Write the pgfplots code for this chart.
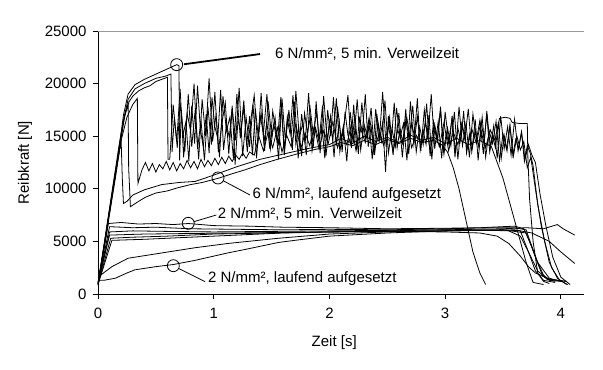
\documentclass[border=0pt]{standalone}
\usepackage{fontspec}
\setmainfont{Liberation Sans}
\usepackage{pgfplots}
\pgfplotsset{compat=1.18}
\begin{document}
\begin{tikzpicture}
\begin{axis}[
 scale only axis, width=486bp, height=263bp,
 xmin=0, xmax=4.2, ymin=0, ymax=25000,
 axis lines*=left,
 axis line style={black, line width=0.8bp},
 xtick={0,1,2,3,4}, ytick={0,5000,10000,15000,20000,25000},
 xticklabels={0,1,2,3,4}, yticklabels={0,5000,10000,15000,20000,25000},
 tick align=outside, major tick length=5bp,
 tick style={black, line width=0.8bp},
 scaled y ticks=false,
 tick label style={font=\fontsize{15bp}{18bp}\selectfont},
 yticklabel style={xshift=-3bp},
 xticklabel style={yshift=-6bp},
 xlabel={Zeit [s]}, ylabel={Reibkraft [N]},
 label style={font=\fontsize{15bp}{18bp}\selectfont},
 xlabel style={at={(axis description cs:0.486,-0.183)}, anchor=center},
 ylabel style={at={(axis description cs:-0.15,0.5)}, anchor=center},
 dat/.style={black, line width=0.8bp, mark=none},
 lead/.style={black, line width=0.8bp, mark=none},
]
\draw[gray!80, line width=0.8bp] (rel axis cs:0,1) -- (rel axis cs:1,1) -- (rel axis cs:1,0);
% 6 N/mm^2, 5 min Verweilzeit
\addplot[dat] coordinates {(0,900)(0.05,4300)(0.1,7800)(0.15,11300)(0.19,14500)(0.22,17000)(0.26,19000)(0.32,19900)(0.4,20400)(0.5,20900)(0.6,21400)(0.68,21800)(0.70,21700)(0.705,12700)
(0.72,17500)(0.75,13500)(0.78,19000)(0.81,14000)(0.84,17500)(0.87,12800)(0.90,18500)(0.93,15000)(0.96,20500)(0.99,14500)
(1.02,17000)(1.05,13000)(1.08,18800)(1.11,15500)(1.14,16800)(1.17,12900)(1.20,19000)(1.23,14800)(1.26,17800)(1.29,13500)
(1.32,16500)(1.35,18900)(1.38,14200)(1.41,17200)(1.44,13600)(1.47,18300)(1.50,15000)(1.53,16800)(1.56,12800)(1.59,18600)
(1.62,14500)(1.65,17500)(1.68,13700)(1.71,19300)(1.74,14900)(1.77,16200)(1.80,13200)(1.83,18000)(1.86,15200)(1.89,17300)
(1.92,13400)(1.95,18800)(1.98,14600)(2.01,16900)(2.04,13000)(2.07,17800)(2.10,14800)(2.13,16400)(2.16,18900)(2.19,13900)
(2.22,17000)(2.25,13300)(2.28,18200)(2.31,14700)(2.34,16600)(2.37,12800)(2.40,17600)(2.43,14400)(2.46,19200)(2.49,14000)
(2.52,16800)(2.55,13200)(2.58,17700)(2.61,14900)(2.64,16200)(2.67,12700)(2.70,18300)(2.73,14200)(2.76,16900)(2.79,13600)
(2.82,17500)(2.85,14700)(2.88,19000)(2.91,13800)(2.94,16400)(2.97,12900)(3.00,17300)(3.03,14500)(3.06,16700)(3.09,13400)
(3.12,17800)(3.15,14100)(3.18,16200)(3.21,13000)(3.24,17100)(3.27,14600)(3.30,16500)(3.33,13300)(3.36,17400)(3.39,14000)
(3.42,16000)(3.45,12900)(3.48,16900)(3.51,13800)(3.54,15900)(3.57,13200)(3.60,16600)(3.63,13600)(3.66,15400)(3.69,12800)
(3.72,14200)(3.75,13200)(3.78,12500)(3.82,9500)(3.87,6500)(3.93,3500)(4.0,1600)(4.08,900)};
\addplot[dat] coordinates {(0,1000)(0.05,4500)(0.1,8200)(0.15,11800)(0.18,14000)(0.2,15300)(0.23,17000)(0.27,18300)(0.3,18800)(0.35,19300)(0.4,19600)(0.45,19800)(0.5,20200)(0.55,20400)(0.6,20600)(0.605,12800)
(0.62,12800)(0.65,18000)(0.68,14500)(0.71,19500)(0.74,13000)(0.77,17200)(0.80,15500)(0.83,20000)(0.86,13800)(0.89,16500)
(0.92,12700)(0.95,17800)(0.98,14200)(1.01,19200)(1.04,13500)(1.07,16200)(1.10,18200)(1.13,13300)(1.16,17600)(1.19,14600)
(1.22,19600)(1.25,13100)(1.28,16800)(1.31,14000)(1.34,18000)(1.37,12900)(1.40,17000)(1.43,15300)(1.46,19000)(1.49,13800)
(1.52,16100)(1.55,14400)(1.58,18700)(1.61,13200)(1.64,16900)(1.67,15200)(1.70,18300)(1.73,12900)(1.76,17100)(1.79,14300)
(1.82,19100)(1.85,13600)(1.88,15800)(1.91,14500)(1.94,17900)(1.97,13100)(2.00,16400)(2.03,14700)(2.06,18600)(2.09,13500)
(2.12,15900)(2.15,12600)(2.18,17300)(2.21,14400)(2.24,18500)(2.27,13700)(2.30,16100)(2.33,14900)(2.36,17700)(2.39,13200)
(2.42,16300)(2.45,14500)(2.48,18400)(2.51,13400)(2.54,15700)(2.57,14000)(2.60,17200)(2.63,13000)(2.66,16600)(2.69,14800)
(2.72,17900)(2.75,13500)(2.78,15900)(2.81,14200)(2.84,18100)(2.87,13100)(2.90,16400)(2.93,14600)(2.96,17500)(2.99,13300)
(3.02,15800)(3.05,14100)(3.08,17300)(3.11,12800)(3.14,16200)(3.17,14700)(3.20,17600)(3.23,13500)(3.26,15600)(3.29,14000)
(3.32,16800)(3.35,13000)(3.38,15500)(3.41,14300)(3.44,16400)(3.47,12700)(3.50,15200)(3.53,13800)(3.56,16000)(3.59,13100)
(3.62,15000)(3.65,13700)(3.68,14500)(3.71,12000)(3.74,13000)(3.78,10000)(3.83,6500)(3.9,3000)(3.97,1500)(4.05,900)};
\addplot[dat] coordinates {(0,950)(0.05,4400)(0.1,8000)(0.15,11600)(0.19,14200)(0.22,16500)(0.26,18500)(0.32,19500)(0.4,20000)(0.5,20500)(0.58,20700)(0.63,20900)(0.64,13500)
(0.66,16800)(0.685,13900)(0.71,18200)(0.735,15100)(0.76,16400)(0.785,12600)(0.81,17900)(0.835,14300)(0.86,19800)(0.885,15600)
(0.91,14000)(0.935,17100)(0.96,13400)(0.985,18700)(1.01,15900)(1.035,14800)(1.06,19400)(1.085,13700)(1.11,16100)(1.135,14900)
(1.16,17900)(1.185,12300)(1.21,16600)(1.235,15400)(1.26,18400)(1.285,14100)(1.31,16900)(1.335,13200)(1.36,17600)(1.385,15000)
(1.41,19100)(1.435,14400)(1.46,16300)(1.485,13800)(1.51,17400)(1.535,15600)(1.56,14300)(1.585,18100)(1.61,13600)(1.635,16700)
(1.66,15200)(1.685,18900)(1.71,14200)(1.735,15800)(1.76,13100)(1.785,17200)(1.81,15300)(1.835,16800)(1.86,13900)(1.885,18300)
(1.91,14700)(1.935,16100)(1.96,12900)(1.985,17500)(2.01,15000)(2.035,18700)(2.06,14100)(2.085,16400)(2.11,13500)(2.135,17300)
(2.16,15100)(2.185,14200)(2.21,18000)(2.235,13800)(2.26,16700)(2.285,15400)(2.31,19000)(2.335,14000)(2.36,15900)(2.385,13200)
(2.41,17100)(2.435,14800)(2.46,16300)(2.485,11600)(2.51,16900)(2.535,14500)(2.56,18200)(2.585,13900)(2.61,15700)(2.635,14400)
(2.66,17600)(2.685,13300)(2.71,16200)(2.735,15000)(2.76,18600)(2.785,13700)(2.81,15500)(2.835,14200)(2.86,17000)(2.885,12800)
(2.91,16100)(2.935,14600)(2.96,17800)(2.985,13600)(3.01,15300)(3.035,14100)(3.06,16900)(3.085,13000)(3.11,15800)(3.135,14500)
(3.16,17400)(3.185,13400)(3.21,15200)(3.235,14000)(3.26,16600)(3.285,12700)(3.31,15600)(3.335,14300)(3.36,17100)(3.385,13500)
(3.41,15000)(3.435,13900)(3.46,16300)(3.485,12900)(3.51,15100)(3.535,13600)(3.56,16000)(3.585,13200)(3.61,14700)(3.635,13800)
(3.66,15400)(3.685,12600)(3.71,14100)(3.735,13400)(3.76,12200)(3.8,8500)(3.86,5000)(3.92,2500)(3.99,1300)(4.06,900)};
% 6 N/mm^2, laufend aufgesetzt
\addplot[dat] coordinates {(0,1000)(0.05,4500)(0.1,8000)(0.15,11500)(0.2,14600)(0.25,16800)(0.3,18000)(0.34,18600)(0.345,10500)
(0.38,11800)(0.41,12500)(0.44,11700)(0.47,12400)(0.50,11600)(0.53,12300)(0.56,11900)(0.59,12600)(0.62,11800)(0.65,12500)
(0.68,11700)(0.71,12400)(0.74,11900)(0.77,12700)(0.80,12000)(0.83,12600)(0.86,11900)(0.89,12800)(0.92,12100)(0.95,12700)
(0.98,12200)(1.01,12900)(1.04,12300)(1.07,13000)(1.10,12400)(1.13,13100)(1.16,12600)(1.19,13200)(1.22,12800)(1.25,13400)
(1.28,12900)(1.31,13500)(1.35,13200)(1.39,15000)(1.43,13600)(1.47,15400)(1.51,13900)(1.55,15800)(1.59,13500)(1.63,15100)
(1.67,14000)(1.71,16200)(1.75,13700)(1.79,15300)(1.83,14100)(1.87,16000)(1.91,13800)(1.95,15500)(1.99,14300)(2.03,16400)
(2.07,13900)(2.11,15200)(2.15,14200)(2.19,16100)(2.23,13600)(2.27,15700)(2.31,14400)(2.35,16500)(2.39,13800)(2.43,15300)
(2.47,14100)(2.51,16000)(2.55,13500)(2.59,15600)(2.63,14300)(2.67,16700)(2.71,13900)(2.75,15100)(2.79,14400)(2.83,16200)
(2.87,13700)(2.91,15500)(2.95,14000)(2.99,16300)(3.03,13600)(3.07,15400)(3.11,14200)(3.15,16000)(3.19,13800)(3.23,15700)
(3.27,14300)(3.31,16400)(3.35,13900)(3.39,15600)(3.43,14600)(3.47,16700)(3.52,16800)(3.56,16700)(3.58,16300)(3.65,16200)
(3.71,16200)(3.715,13000)(3.73,9000)(3.76,5000)(3.8,2000)(3.85,1200)(3.9,1000)};
\addplot[dat] coordinates {(0,900)(0.05,4300)(0.1,7800)(0.15,11300)(0.2,14800)(0.23,16800)(0.26,18100)(0.265,12000)(0.28,8300)(0.35,8800)(0.41,9200)(0.5,9600)(0.6,9800)(0.69,10100)(0.8,10400)(0.9,10600)(1.04,11000)(1.15,11400)(1.27,11800)(1.4,12300)(1.55,12800)(1.75,13400)(1.9,13800)(2.0,14000)(2.1,14400)(2.2,14100)(2.3,14600)(2.4,14200)(2.5,14700)(2.6,14300)(2.7,14800)(2.8,14400)(2.9,14600)(2.97,14200)(3.02,13500)(3.07,12000)(3.12,10000)(3.17,7500)(3.24,4000)(3.3,2000)(3.35,900)};
\addplot[dat] coordinates {(0,800)(0.05,4200)(0.1,7600)(0.15,11000)(0.2,14600)(0.21,11000)(0.22,8600)(0.25,8800)(0.3,9400)(0.4,9900)(0.55,10400)(0.7,10600)(0.84,10700)(1.0,11300)(1.2,12100)(1.4,12800)(1.6,13300)(1.8,13800)(2.0,14200)(2.1,14800)(2.2,14300)(2.3,15000)(2.4,14500)(2.5,14900)(2.6,14400)(2.7,15100)(2.8,14600)(2.9,14900)(3.0,14300)(3.1,14800)(3.2,14200)(3.3,14600)(3.4,14000)(3.5,11000)(3.6,7000)(3.7,3000)(3.76,1100)(3.85,900)};
% 2 N/mm^2, 5 min Verweilzeit
\addplot[dat] coordinates {(0,1000)(0.09,6700)(0.2,6800)(0.35,6650)(0.5,6700)(0.65,6600)(0.78,6700)(1.0,6500)(1.3,6450)(1.6,6350)(2.0,6300)(2.5,6200)(3.0,6250)(3.3,6300)(3.5,6400)(3.6,6450)(3.68,6200)(3.75,4500)(3.8,3000)(3.85,1800)(3.9,1300)(4.0,1200)};
\addplot[dat] coordinates {(0,900)(0.1,6400)(0.3,6300)(0.5,6350)(0.8,6200)(1.2,6150)(1.6,6100)(2.0,6150)(2.5,6100)(3.0,6200)(3.4,6300)(3.6,6300)(3.7,6100)(3.78,3500)(3.84,1800)(3.9,1400)(4.05,1200)};
\addplot[dat] coordinates {(0,900)(0.1,5900)(0.3,6000)(0.6,5950)(1.0,5900)(1.5,5950)(2.0,6000)(2.5,6050)(3.0,6100)(3.4,6050)(3.55,6000)(3.65,5500)(3.72,4000)(3.8,2200)(3.88,1400)(3.95,1200)};
\addplot[dat] coordinates {(0,900)(0.11,5300)(0.3,5400)(0.6,5500)(1.0,5700)(1.5,5800)(2.0,5900)(2.5,5950)(3.0,5900)(3.3,5800)(3.45,5500)(3.55,4800)(3.65,3600)(3.72,2600)(3.78,2000)(3.9,1400)(4.05,1200)};
\addplot[dat] coordinates {(0,900)(0.12,5100)(0.4,5200)(0.8,5400)(1.2,5600)(1.6,5800)(2.0,5900)(2.5,6000)(3.0,6100)(3.5,6200)(3.7,6300)(3.85,6200)(3.97,6600)(4.02,6200)(4.12,5600)};
\addplot[dat] coordinates {(0,1000)(0.1,5600)(0.4,5700)(0.8,5750)(1.2,5800)(2.0,5900)(2.6,5950)(3.0,6000)(3.4,6050)(3.6,6100)(3.75,5800)(3.9,5000)(4.0,4000)(4.12,2900)};
% 2 N/mm^2, laufend aufgesetzt
\addplot[dat] coordinates {(0,1300)(0.05,1300)(0.15,1500)(0.25,2000)(0.32,2300)(0.5,2600)(0.65,2800)(0.84,3200)(1.12,3900)(1.3,4300)(1.56,4900)(1.7,5100)(2.0,5500)(2.5,5800)(3.0,6000)(3.5,6100)(3.65,6000)(3.72,4000)(3.78,2200)(3.85,1300)(3.95,1100)};
\addplot[dat] coordinates {(0,1600)(0.12,2600)(0.26,3400)(0.55,3900)(0.84,4400)(1.12,4800)(1.56,5300)(2.0,5700)(2.5,5900)(3.0,6000)(3.5,6100)(3.7,5800)(3.8,3000)(3.9,1500)(4.0,1200)};
% annotations
\addplot[only marks, mark=o, mark size=6bp, mark options={black, line width=0.8bp, fill=none}] coordinates {(0.68,21800)(1.037,11030)(0.78,6720)(0.651,2690)};
\addplot[black, line width=1.8bp, mark=none] coordinates {(0.743,21840)(1.40,22810)};
\addplot[lead] coordinates {(1.083,10760)(1.314,9410)};
\addplot[lead] coordinates {(0.830,6880)(1.023,7510)};
\addplot[lead] coordinates {(0.697,2430)(0.925,1170)};
\node[anchor=west, inner sep=0pt, font=\fontsize{15bp}{18bp}\selectfont] at (axis cs:1.53,22800) {6 N/mm², 5 min. Verweilzeit};
\node[anchor=west, inner sep=0pt, font=\fontsize{15bp}{18bp}\selectfont] at (axis cs:1.335,9480) {6 N/mm², laufend aufgesetzt};
\node[anchor=west, inner sep=0pt, font=\fontsize{15bp}{18bp}\selectfont] at (axis cs:1.035,7620) {2 N/mm², 5 min. Verweilzeit};
\node[anchor=west, inner sep=0pt, font=\fontsize{15bp}{18bp}\selectfont] at (axis cs:0.95,1430) {2 N/mm², laufend aufgesetzt};
\end{axis}
\pgfresetboundingbox
\path[use as bounding box] (-98bp,-76bp) rectangle (505bp,294bp);
\end{tikzpicture}
\end{document}
